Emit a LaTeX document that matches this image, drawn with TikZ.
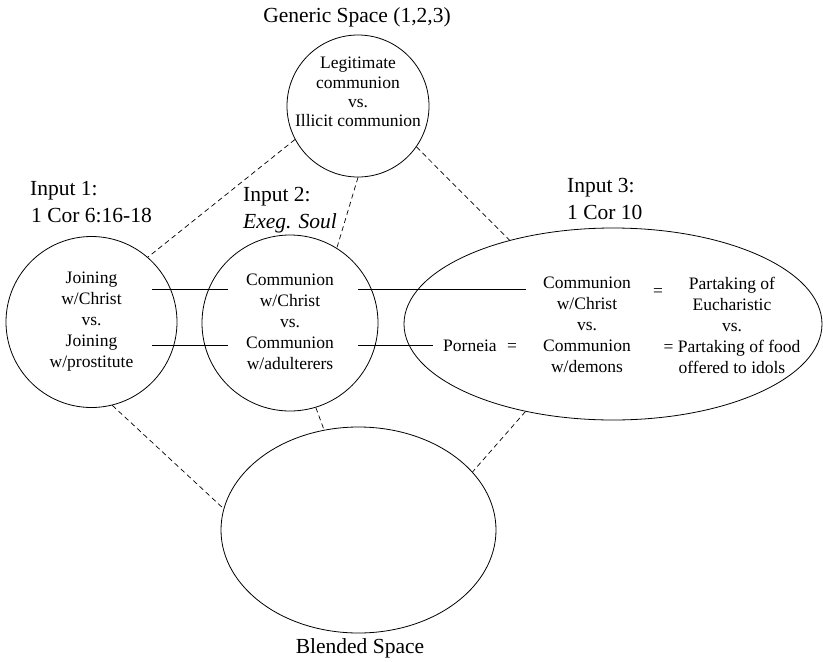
\documentclass[tikz,border=0pt]{standalone}
\usepackage{fontspec}
\setmainfont{LiberationSerif}[Extension=.ttf, UprightFont=*-Regular, ItalicFont=*-Italic, BoldFont=*-Bold]
\usetikzlibrary{shapes.geometric}
\begin{document}
\begin{tikzpicture}[x=1pt,y=-1pt,
  space/.style={draw, line width=0.8pt, inner sep=0pt},
  round/.style={space, circle, minimum size=#1},
  oval/.style={space, ellipse},
  txt/.style={font=\fontsize{17.5}{21}\selectfont, align=center, inner sep=0pt},
  lbl/.style={font=\fontsize{21.5}{25}\selectfont, inner sep=0pt},
  map/.style={dash pattern=on 5pt off 3.5pt, line width=0.7pt},
  link/.style={line width=0.8pt}]

\useasboundingbox (0,0) rectangle (823,662);

% mental spaces
\node[round=142pt] (gen) at (358,106) {};
\node[round=171pt] (in1) at (91.5,322) {};
\node[round=176pt] (in2) at (290,323) {};
\node[oval, minimum width=418pt, minimum height=192pt] (in3) at (613,324) {};
\node[oval, minimum width=275pt, minimum height=206pt] (bl) at (358.5,530) {};

% space titles
\node[lbl, anchor=base] (gtitle) at (357,22) {Generic Space (1,2,3)};
\node[lbl, anchor=base west] (t1a) at (30,195) {Input 1:};
\node[lbl, anchor=base west] (t1b) at (31,222) {1 Cor 6:16-18};
\node[lbl, anchor=base west] (t2a) at (243,201) {Input 2:};
\node[lbl, anchor=base west] (t2b) at (243,228) {\itshape Exeg. Soul};
\node[lbl, anchor=base west] (t3a) at (567,192) {Input 3:};
\node[lbl, anchor=base west] (t3b) at (567,219) {1 Cor 10};
\node[lbl, anchor=base] (btitle) at (360,653) {Blended Space};

% contents
\node[txt, font=\fontsize{17.5}{19.2}\selectfont] (gtext) at (358,92)
  {Legitimate\\communion\\vs.\\Illicit communion};
\node[txt] (x1) at (91.5,322) {Joining\\w/Christ\\vs.\\Joining\\w/prostitute};
\node[txt] (x2) at (290,322) {Communion\\w/Christ\\vs.\\Communion\\w/adulterers};
\node[txt] (x3) at (587,325) {Communion\\w/Christ\\vs.\\Communion\\w/demons};
\node[txt] (x4) at (732,325) {Partaking of\\Eucharistic\\vs.\\= Partaking of food\\offered to idols};
\node[txt] (eq1) at (658,292) {=};
\node[txt, anchor=base west] (porn) at (443,351) {Porneia};
\node[txt, anchor=base west] (eq2) at (507,351) {=};

% cross-space mappings
\coordinate (a1) at (152,289);
\coordinate (b1) at (228,289);
\coordinate (a2) at (152,345);
\coordinate (b2) at (228,345);
\coordinate (c1) at (358,289);
\coordinate (d1) at (526,289);
\coordinate (c2) at (358,345);
\coordinate (d2) at (433,345);
\draw[link] (a1) -- (b1);
\draw[link] (a2) -- (b2);
\draw[link] (c1) -- (d1);
\draw[link] (c2) -- (d2);

% projections
\draw[map] (gen.208) -- (in1.49);
\draw[map] (gen.270) -- (in2.58);
\draw[map] (gen.325) -- (in3.141);
\draw[map] (in1.284) -- (bl.171);
\draw[map] (in2.287) -- (bl.109);
\draw[map] (in3.225) -- (bl.27);
\end{tikzpicture}
\end{document}
